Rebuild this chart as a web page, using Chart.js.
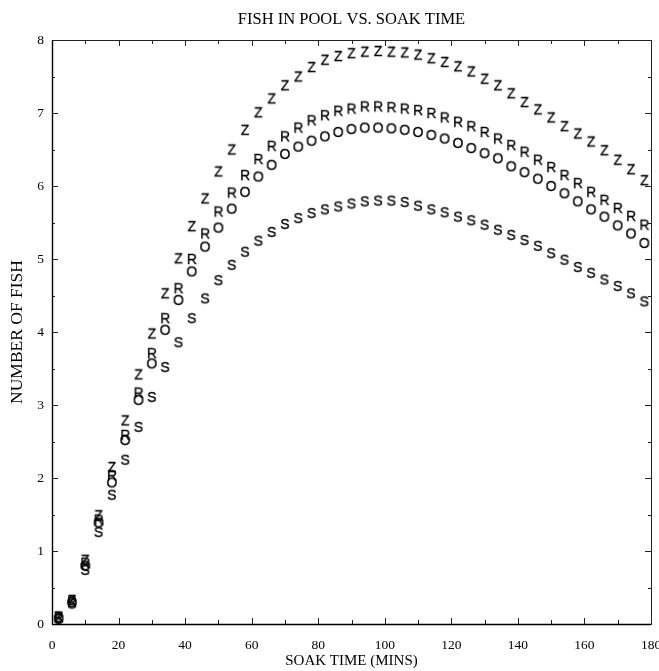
<!DOCTYPE html>
<html>
<head>
<meta charset="utf-8">
<title>Fish in Pool vs. Soak Time</title>
<script src="https://cdn.jsdelivr.net/npm/chart.js@4/dist/chart.umd.min.js"></script>
<style>
  html, body { margin: 0; padding: 0; background: #fff; }
  #wrap { width: 659px; height: 671px; }
</style>
</head>
<body>
<div id="wrap"><canvas id="fishChart" width="659" height="671"></canvas></div>
<script>
// Soak time (minutes) at which each count was taken
const soakTimes = [2, 6, 10, 14, 18, 22, 26, 30, 34, 38, 42, 46, 50, 54, 58, 62, 66, 70, 74, 78,
  82, 86, 90, 94, 98, 102, 106, 110, 114, 118, 122, 126, 130, 134, 138, 142, 146, 150, 154, 158,
  162, 166, 170, 174, 178];

// Number of fish in the pool, one list per plotted symbol
const fishZ = [0.10, 0.33, 0.88, 1.49, 2.15, 2.79, 3.42, 3.98, 4.53, 5.01,
  5.45, 5.83, 6.20, 6.50, 6.77, 7.01, 7.20, 7.38, 7.50, 7.63,
  7.73, 7.78, 7.82, 7.84, 7.85, 7.84, 7.83, 7.80, 7.75, 7.70,
  7.64, 7.57, 7.47, 7.38, 7.27, 7.15, 7.05, 6.94, 6.82, 6.72,
  6.61, 6.49, 6.36, 6.23, 6.08];
const fishR = [0.10, 0.31, 0.84, 1.43, 2.04, 2.59, 3.17, 3.71, 4.19, 4.60,
  5.00, 5.35, 5.65, 5.91, 6.15, 6.37, 6.55, 6.68, 6.80, 6.90,
  6.97, 7.03, 7.06, 7.09, 7.09, 7.08, 7.06, 7.04, 7.00, 6.94,
  6.88, 6.82, 6.74, 6.65, 6.56, 6.47, 6.36, 6.26, 6.15, 6.04,
  5.92, 5.81, 5.70, 5.59, 5.47];
const fishO = [0.08, 0.30, 0.80, 1.39, 1.94, 2.52, 3.07, 3.57, 4.03, 4.44,
  4.83, 5.17, 5.43, 5.69, 5.92, 6.13, 6.29, 6.44, 6.54, 6.62,
  6.68, 6.74, 6.78, 6.80, 6.80, 6.79, 6.77, 6.74, 6.70, 6.65,
  6.59, 6.52, 6.45, 6.38, 6.27, 6.19, 6.10, 6.00, 5.90, 5.79,
  5.68, 5.58, 5.46, 5.35, 5.22];
const fishS = [0.07, 0.28, 0.74, 1.26, 1.77, 2.25, 2.70, 3.11, 3.52, 3.86,
  4.19, 4.46, 4.71, 4.92, 5.10, 5.25, 5.37, 5.48, 5.56, 5.63,
  5.68, 5.72, 5.76, 5.79, 5.80, 5.80, 5.78, 5.73, 5.68, 5.64,
  5.58, 5.53, 5.47, 5.40, 5.33, 5.26, 5.18, 5.08, 4.99, 4.89,
  4.81, 4.72, 4.63, 4.53, 4.42];

const seriesSymbols = ['Z', 'R', 'O', 'S'];
const seriesValues = [fishZ, fishR, fishO, fishS];

// Axis ranges and tick steps
const xRange = [0, 180];
const yRange = [0, 8];
const xLabelStep = 20, xMinorStep = 10;
const yLabelStep = 1, yMinorStep = 0.5;

const serif = '"Liberation Serif", "Times New Roman", serif';
const ink = '#000';

// Each point is drawn as its series letter
function letterMarker(ch) {
  const size = 20;
  const c = document.createElement('canvas');
  c.width = size; c.height = size;
  const g = c.getContext('2d');
  g.font = '14px "Liberation Sans", Arial, sans-serif';
  g.fillStyle = '#000';
  g.strokeStyle = '#000';
  g.lineWidth = 0.35;
  g.textAlign = 'center';
  g.textBaseline = 'alphabetic';
  g.fillText(ch, size / 2, size / 2 + 5);
  g.strokeText(ch, size / 2, size / 2 + 5);
  return c;
}

// Box around the plot with short inward tick marks on all four sides
const frameTicks = {
  id: 'frameTicks',
  beforeDatasetsDraw(chart) {
    const { ctx, chartArea: a, scales: { x, y } } = chart;
    ctx.save();
    ctx.strokeStyle = '#222';
    ctx.lineWidth = 1;
    ctx.strokeRect(a.left + 0.5, a.top + 0.5, a.right - a.left, a.bottom - a.top);
    ctx.beginPath();
    for (let v = xRange[0]; v <= xRange[1]; v += xMinorStep) {
      const px = Math.round(x.getPixelForValue(v)) + 0.5;
      const len = v % xLabelStep === 0 ? 6 : 4;
      ctx.moveTo(px, a.bottom); ctx.lineTo(px, a.bottom - len);
      ctx.moveTo(px, a.top); ctx.lineTo(px, a.top + len);
    }
    for (let v = yRange[0]; v <= yRange[1]; v += yMinorStep) {
      const py = Math.round(y.getPixelForValue(v)) + 0.5;
      const len = v % yLabelStep === 0 ? 6 : 3;
      ctx.moveTo(a.left, py); ctx.lineTo(a.left + len, py);
      ctx.moveTo(a.right, py); ctx.lineTo(a.right - len, py);
    }
    ctx.stroke();
    // heavier left and bottom axis lines
    ctx.lineWidth = 1.4;
    ctx.strokeStyle = '#000';
    ctx.beginPath();
    ctx.moveTo(a.left + 0.5, a.top); ctx.lineTo(a.left + 0.5, a.bottom + 0.5);
    ctx.lineTo(a.right, a.bottom + 0.5);
    ctx.stroke();
    ctx.restore();
  }
};

const datasets = seriesSymbols.map((sym, k) => ({
  label: sym,
  data: soakTimes.map((t, i) => ({ x: t, y: seriesValues[k][i] })),
  pointStyle: letterMarker(sym),
  showLine: false
}));

new Chart(document.getElementById('fishChart'), {
  type: 'scatter',
  data: { datasets },
  options: {
    responsive: false,
    animation: false,
    devicePixelRatio: 1,
    layout: { padding: { left: 0, right: 8, top: 0, bottom: 0 } },
    plugins: {
      legend: { display: false },
      tooltip: { enabled: false },
      title: {
        display: true,
        text: 'FISH IN POOL VS. SOAK TIME',
        fullSize: false,
        color: ink,
        font: { family: serif, size: 16.5, weight: 'normal', lineHeight: 1.2 },
        padding: { top: 10, bottom: 10.2 }
      }
    },
    scales: {
      x: {
        type: 'linear',
        position: 'bottom',
        min: xRange[0], max: xRange[1],
        grid: { display: false, drawTicks: false },
        border: { display: false },
        ticks: {
          stepSize: xLabelStep, autoSkip: false, maxRotation: 0,
          padding: 13, color: ink,
          font: { family: serif, size: 13.5 }
        },
        title: {
          display: true, text: 'SOAK TIME (MINS)', color: ink,
          font: { family: serif, size: 15 },
          padding: { top: 0, bottom: 1 }
        },
        afterFit(s) { s.height = 47; s.paddingLeft = 0; s.paddingRight = 0; }
      },
      y: {
        type: 'linear',
        position: 'left',
        min: yRange[0], max: yRange[1],
        grid: { display: false, drawTicks: false },
        border: { display: false },
        ticks: {
          stepSize: yLabelStep, padding: 8, color: ink,
          font: { family: serif, size: 13.5 }
        },
        title: {
          display: true, text: 'NUMBER OF FISH', color: ink,
          font: { family: serif, size: 17.5 },
          padding: { top: 7, bottom: 0 }
        },
        afterFit(s) { s.width = 52; s.paddingTop = 0; s.paddingBottom = 0; }
      }
    }
  },
  plugins: [frameTicks]
});
</script>
</body>
</html>
